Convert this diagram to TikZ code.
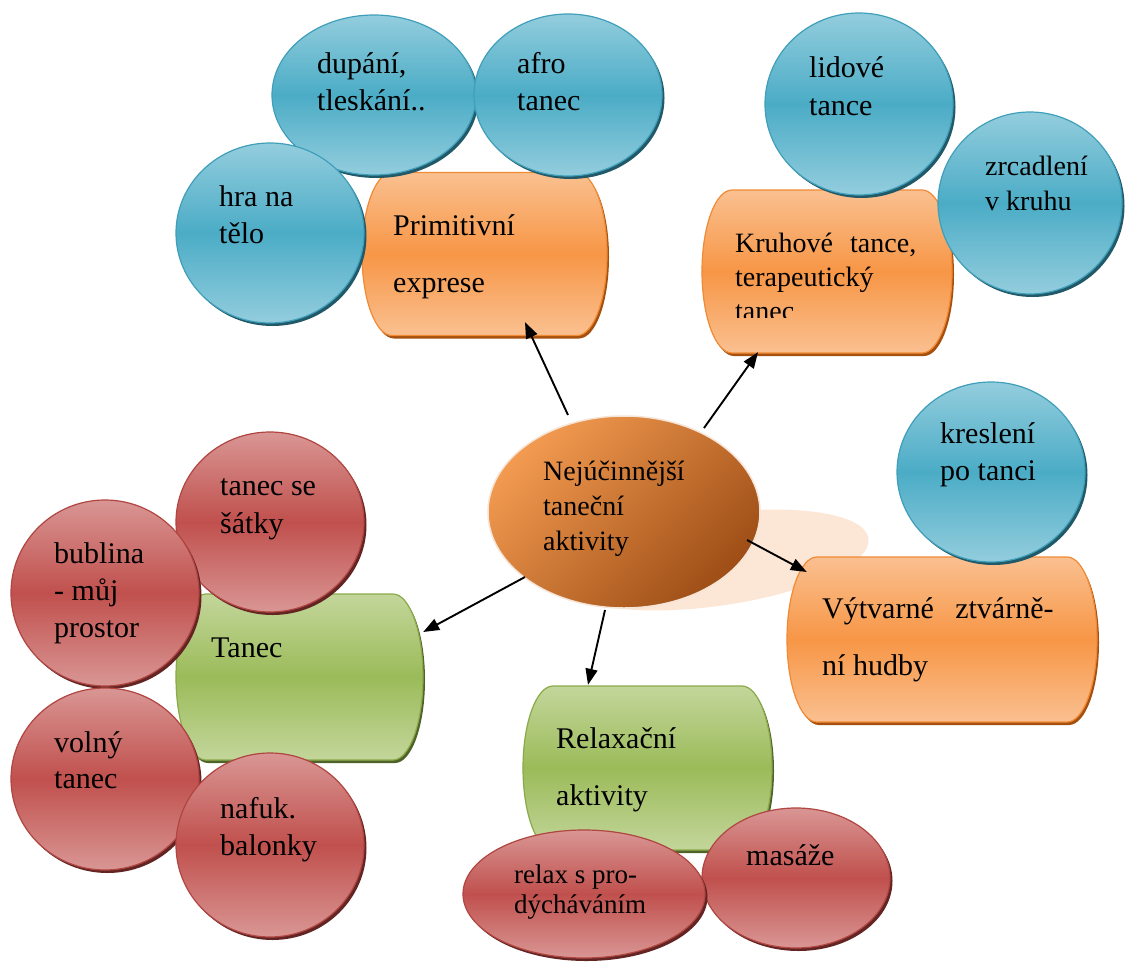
\documentclass[tikz,border=0pt]{standalone}
\usepackage{fontspec}
\setmainfont{Liberation Serif}
\usetikzlibrary{arrows.meta,shapes.geometric}

\definecolor{orL}{HTML}{FAC090}
\definecolor{orM}{HTML}{F79646}
\definecolor{orE}{HTML}{F08A35}
\definecolor{orS}{HTML}{A5500F}
\definecolor{grL}{HTML}{C3D69B}
\definecolor{grM}{HTML}{9BBB59}
\definecolor{grE}{HTML}{8AAA4A}
\definecolor{grS}{HTML}{4F6228}
\definecolor{blL}{HTML}{93CDDD}
\definecolor{blM}{HTML}{4BACC6}
\definecolor{blE}{HTML}{3F9FBA}
\definecolor{blS}{HTML}{215968}
\definecolor{rdL}{HTML}{D99694}
\definecolor{rdM}{HTML}{C0504D}
\definecolor{rdE}{HTML}{B04541}
\definecolor{rdS}{HTML}{632523}
\definecolor{ctL}{HTML}{F29A50}
\definecolor{ctD}{HTML}{9E4E16}
\definecolor{ctE}{HTML}{F6E4D6}
\definecolor{halo}{HTML}{FCE6D6}

\newcommand\barrelpath[4]{(#1-#3/2+30,#2-#4/2) -- (#1+#3/2-30,#2-#4/2) arc[start angle=90,end angle=-90,x radius=30pt,y radius={#4/2*1pt}] -- (#1-#3/2+30,#2+#4/2) arc[start angle=270,end angle=90,x radius=30pt,y radius={#4/2*1pt}] -- cycle}

\newcommand\barrel[6]{%
  \begin{scope}[xshift=2pt,yshift=-3pt]\fill[#6S] \barrelpath{#2}{#3}{#4}{#5};\end{scope}
  \path[top color=#6L,bottom color=#6L,middle color=#6M,draw=#6E,line width=1.2pt] \barrelpath{#2}{#3}{#4}{#5};
  \node[inner sep=0,minimum width=#4pt,minimum height=#5pt] (#1) at (#2,#3) {};
}

\newcommand\bubble[5]{%
  \fill[#5S] (#1+2.5,#2+3) ellipse[x radius=#3pt,y radius=#4pt];
  \path[top color=#5L,bottom color=#5L,middle color=#5M,draw=#5E,line width=1.2pt] (#1,#2) ellipse[x radius=#3pt,y radius=#4pt];
}

\tikzset{
  lbl/.style={anchor=base west,align=left,inner sep=0,font=\fontsize{30}{37}\selectfont},
  wide/.style={font=\fontsize{30}{57}\selectfont},
  arr/.style={-{Triangle[length=16pt,width=12pt]},line width=1.9pt,black},
}

\begin{document}
\begin{tikzpicture}[x=1pt,y=-1pt]
\useasboundingbox (0,0) rectangle (1130,964);
\fill[white] (0,0) rectangle (1130,964);

% halo behind the centre
\fill[halo,rotate around={8:(715,560)}] (715,560) ellipse[x radius=155pt,y radius=46pt];

% centre
\node[ellipse,minimum width=272pt,minimum height=192pt,inner sep=0,draw=ctE,line width=1.5pt,
      top color=ctL,bottom color=ctD,shading angle=45] (c) at (624,512) {};

% boxes
\barrel{prim}{484.5}{254}{245}{163}{or}
\barrel{kru}{827}{271.5}{250}{163}{or}
\barrel{tan}{299.5}{677}{247}{166}{gr}
\barrel{rel}{647.5}{768}{249}{164}{gr}
\barrel{vyt}{942}{639.5}{310}{165}{or}

% bubbles
\bubble{374}{95}{102}{80}{bl}
\bubble{568}{95}{94}{81}{bl}
\bubble{270}{233}{94}{90}{bl}
\bubble{859}{104}{94}{91}{bl}
\bubble{1030}{203}{92}{91}{bl}
\bubble{991}{472}{94}{90}{bl}
\bubble{270}{522}{94}{90}{rd}
\bubble{105}{593}{94}{93}{rd}
\bubble{105}{779}{94}{91}{rd}
\bubble{270}{845}{94}{92}{rd}
\bubble{796}{878}{94}{70}{rd}
\bubble{584}{894}{121}{64}{rd}

% texts (anchored at the baseline of the last line)
\node[lbl,font=\fontsize{28}{35}\selectfont] (ct) at (543,550) {Nejúčinnější\\taneční\\aktivity};
\node[lbl,wide] (tprim) at (393,292) {Primitivní\\exprese};
\begin{scope}
\clip (700,185) rectangle (960,317);
\node[lbl,font=\fontsize{28}{34}\selectfont] (tkru) at (735,320) {Kruhové\hspace{10pt} tance,\\terapeutický\\tanec};
\end{scope}
\node[lbl] (ttan) at (211,657) {Tanec};
\node[lbl,wide] (trel) at (556,805) {Relaxační\\aktivity};
\node[lbl,wide] (tvyt) at (822,675) {Výtvarné\hspace{14pt} ztvárně-\\ní hudby};
\node[lbl] (tdup) at (317,110) {dupání,\\tleskání..};
\node[lbl] (tafro) at (517,110) {afro\\tanec};
\node[lbl] (thra) at (219,243) {hra na\\tělo};
\node[lbl,font=\fontsize{30}{38}\selectfont] (tlid) at (809,115) {lidové\\tance};
\node[lbl,font=\fontsize{28}{35}\selectfont] (tzrc) at (985,210) {zrcadlení\\v kruhu};
\node[lbl] (tkre) at (940,480) {kreslení\\po tanci};
\node[lbl,font=\fontsize{30}{38}\selectfont] (tsat) at (220,533) {tanec se\\šátky};
\node[lbl] (tbub) at (54,637) {bublina\\- můj\\prostor};
\node[lbl,font=\fontsize{30}{36}\selectfont] (tvol) at (54,788) {volný\\tanec};
\node[lbl] (tnaf) at (220,855) {nafuk.\\balonky};
\node[lbl,font=\fontsize{27}{30}\selectfont] (trlx) at (514,913) {relax s pro-\\dýcháváním};
\node[lbl] (tmas) at (746,865) {masáže};

% connectors
\draw[arr] ([xshift=-56pt,yshift=97pt]c.center) -- ([xshift=40.5pt,yshift=13.5pt]prim.south);
\draw[arr] ([xshift=80pt,yshift=84pt]c.center) -- ([xshift=-69pt,yshift=1pt]kru.south);
\draw[arr] ([xshift=-99pt,yshift=-65pt]c.center) -- ([yshift=45pt]tan.east);
\draw[arr] ([xshift=-19pt,yshift=-98pt]c.center) -- ([xshift=-59.5pt,yshift=1pt]rel.north);
\draw[arr] ([xshift=123pt,yshift=-28pt]c.center) -- ([xshift=20pt,yshift=67.5pt]vyt.west);
\end{tikzpicture}
\end{document}
